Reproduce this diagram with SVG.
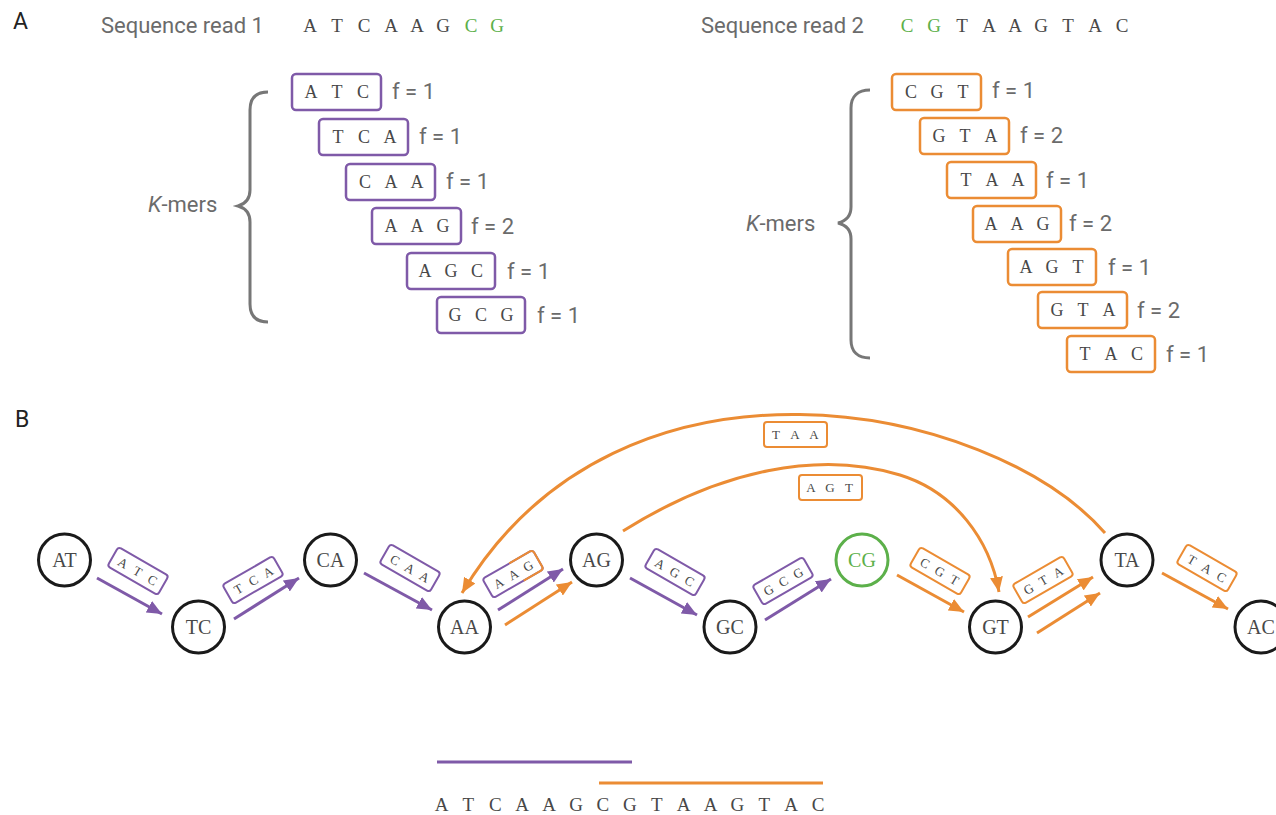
<svg xmlns="http://www.w3.org/2000/svg" width="1276" height="815" viewBox="0 0 1276 815">
<defs>
<style>
.panel{font-family:Roboto,"Liberation Sans",sans-serif;font-size:23px;fill:#222}
.lbl{font-family:Roboto,"Liberation Sans",sans-serif;font-size:22px;fill:#6b6b6b}
.mono{font-family:"Liberation Serif","DejaVu Serif",serif;fill:#484848}
.seq{font-size:19px;text-anchor:middle}
.km{font-size:18px;text-anchor:middle}
.sm{font-size:13px;text-anchor:middle}
.nd{font-size:20px;text-anchor:middle}
.g{fill:#5cb04a}
.bp{fill:#fff;stroke:#7f5aa8;stroke-width:2.5}
.bo{fill:#fff;stroke:#eb8c34;stroke-width:2.5}
.ep{fill:#fff;stroke:#7f5aa8;stroke-width:2}
.eo{fill:#fff;stroke:#eb8c34;stroke-width:2}
.brace{fill:none;stroke:#777;stroke-width:3}
.node{fill:#fff;stroke:#1a1a1a;stroke-width:3}
.ap{fill:none;stroke:#7f5aa8;stroke-width:3;marker-end:url(#mp)}
.ao{fill:none;stroke:#eb8c34;stroke-width:3;marker-end:url(#mo)}
</style>
<marker id="mp" markerUnits="userSpaceOnUse" markerWidth="15" markerHeight="13" viewBox="0 0 15 13" refX="15" refY="6.5" orient="auto"><path d="M0,0 L15,6.5 L0,13 z" fill="#7f5aa8"/></marker>
<marker id="mo" markerUnits="userSpaceOnUse" markerWidth="15" markerHeight="13" viewBox="0 0 15 13" refX="15" refY="6.5" orient="auto"><path d="M0,0 L15,6.5 L0,13 z" fill="#eb8c34"/></marker>
</defs>
<rect width="1276" height="815" fill="#fff"/>

<g id="panelA">
<text class="panel" x="13" y="29">A</text>
<text class="lbl" x="101" y="33">Sequence read 1</text>
<text class="mono seq" x="310 337 364 391 417 443" y="32">ATCAAG</text>
<text class="mono seq g" x="471 497" y="32">CG</text>
<text class="lbl" x="701" y="33">Sequence read 2</text>
<text class="mono seq g" x="907 934" y="32">CG</text>
<text class="mono seq" x="962 989 1015 1041 1068 1095 1122" y="32">TAAGTAC</text>

<path class="brace" d="M268,92 C256,92 250,98 250,110 L250,190 C250,199 245,204 238,206 C245,208 250,213 250,222 L250,304 C250,316 256,322 268,322"/>
<text class="lbl" x="148" y="212"><tspan font-style="italic">K</tspan>-mers</text>
<g id="kmer-l1"><rect class="bp" x="292" y="74" width="89" height="36" rx="4"/><text class="mono km" x="311 337 363" y="98">ATC</text><text class="lbl" x="392" y="99">f = 1</text></g>
<g id="kmer-l2"><rect class="bp" x="319" y="119" width="89" height="36" rx="4"/><text class="mono km" x="338 364 390" y="143">TCA</text><text class="lbl" x="419" y="144">f = 1</text></g>
<g id="kmer-l3"><rect class="bp" x="346" y="164" width="89" height="36" rx="4"/><text class="mono km" x="365 391 417" y="188">CAA</text><text class="lbl" x="446" y="189">f = 1</text></g>
<g id="kmer-l4"><rect class="bp" x="372" y="208" width="89" height="36" rx="4"/><text class="mono km" x="391 417 443" y="232">AAG</text><text class="lbl" x="471" y="234">f = 2</text></g>
<g id="kmer-l5"><rect class="bp" x="407" y="253" width="88" height="36" rx="4"/><text class="mono km" x="425 451 477" y="277">AGC</text><text class="lbl" x="507" y="279">f = 1</text></g>
<g id="kmer-l6"><rect class="bp" x="437" y="297" width="88" height="36" rx="4"/><text class="mono km" x="455 481 507" y="321">GCG</text><text class="lbl" x="537" y="323">f = 1</text></g>

<path class="brace" d="M870,90 C858,90 851,96 851,108 L851,207 C851,216 846,221 838,223 C846,225 851,230 851,239 L851,340 C851,352 858,358 870,358"/>
<text class="lbl" x="746" y="231"><tspan font-style="italic">K</tspan>-mers</text>
<g id="kmer-r1"><rect class="bo" x="892" y="74" width="89" height="36" rx="4"/><text class="mono km" x="911 937 963" y="98">CGT</text><text class="lbl" x="992" y="98">f = 1</text></g>
<g id="kmer-r2"><rect class="bo" x="920" y="118" width="89" height="36" rx="4"/><text class="mono km" x="939 965 991" y="142">GTA</text><text class="lbl" x="1020" y="143">f = 2</text></g>
<g id="kmer-r3"><rect class="bo" x="947" y="162" width="89" height="36" rx="4"/><text class="mono km" x="966 992 1018" y="186">TAA</text><text class="lbl" x="1046" y="188">f = 1</text></g>
<g id="kmer-r4"><rect class="bo" x="973" y="206" width="88" height="36" rx="4"/><text class="mono km" x="991 1017 1043" y="230">AAG</text><text class="lbl" x="1069" y="231">f = 2</text></g>
<g id="kmer-r5"><rect class="bo" x="1008" y="249" width="88" height="36" rx="4"/><text class="mono km" x="1026 1052 1078" y="273">AGT</text><text class="lbl" x="1108" y="275">f = 1</text></g>
<g id="kmer-r6"><rect class="bo" x="1038" y="292" width="89" height="36" rx="4"/><text class="mono km" x="1057 1083 1109" y="316">GTA</text><text class="lbl" x="1137" y="318">f = 2</text></g>
<g id="kmer-r7"><rect class="bo" x="1067" y="336" width="88" height="36" rx="4"/><text class="mono km" x="1085 1111 1137" y="360">TAC</text><text class="lbl" x="1166" y="362">f = 1</text></g>
</g>

<text class="panel" x="15" y="427">B</text>

<g id="connectors">
<path class="ap" d="M97,578 L162,614"/>
<path class="ap" d="M234,619 L299,578"/>
<path class="ap" d="M364,573 L432,610"/>
<path class="ap" d="M498,610 L563,569"/>
<path class="ao" d="M505,625 L572,582"/>
<path class="ap" d="M630,578 L697,615"/>
<path class="ap" d="M765,620 L831,579"/>
<path class="ao" d="M897,575 L964,612"/>
<path class="ao" d="M1028,617 L1093,577"/>
<path class="ao" d="M1037,633 L1100,593"/>
<path class="ao" d="M1162,573 L1228,609"/>
<path class="ao" d="M1105,533 C990,402 620,328 462,593"/>
<path class="ao" d="M623,531 C720,470 820,450 900,475 C955,492 990,540 999,592"/>
</g>

<g id="edge-labels">
<g id="e-ATC" transform="translate(138,571) rotate(30)"><rect class="ep" x="-29" y="-11" width="58" height="22" rx="3"/><text class="mono sm" x="-17 0 17" y="5">ATC</text></g>
<g id="e-TCA" transform="translate(253,580) rotate(-30)"><rect class="ep" x="-29" y="-11" width="58" height="22" rx="3"/><text class="mono sm" x="-17 0 17" y="5">TCA</text></g>
<g id="e-CAA" transform="translate(410,568) rotate(30)"><rect class="ep" x="-29" y="-11" width="58" height="22" rx="3"/><text class="mono sm" x="-17 0 17" y="5">CAA</text></g>
<g id="e-AAG" transform="translate(513,574) rotate(-30)"><rect class="ep" x="-29" y="-11" width="58" height="22" rx="3"/><path d="M2,-11 L26,-11 Q29,-11 29,-8 L29,8 Q29,11 26,11 L6,11" fill="none" stroke="#eb8c34" stroke-width="2"/><text class="mono sm" x="-17 0 17" y="5">AAG</text></g>
<g id="e-AGC" transform="translate(675,572) rotate(30)"><rect class="ep" x="-29" y="-11" width="58" height="22" rx="3"/><text class="mono sm" x="-17 0 17" y="5">AGC</text></g>
<g id="e-GCG" transform="translate(783,581) rotate(-30)"><rect class="ep" x="-29" y="-11" width="58" height="22" rx="3"/><text class="mono sm" x="-17 0 17" y="5">GCG</text></g>
<g id="e-CGT" transform="translate(940,571) rotate(30)"><rect class="eo" x="-29" y="-11" width="58" height="22" rx="3"/><text class="mono sm" x="-17 0 17" y="5">CGT</text></g>
<g id="e-GTA" transform="translate(1043,580) rotate(-30)"><rect class="eo" x="-29" y="-11" width="58" height="22" rx="3"/><text class="mono sm" x="-17 0 17" y="5">GTA</text></g>
<g id="e-TAC" transform="translate(1207,568) rotate(30)"><rect class="eo" x="-29" y="-11" width="58" height="22" rx="3"/><text class="mono sm" x="-17 0 17" y="5">TAC</text></g>
<g id="e-TAA"><rect class="eo" x="764" y="422" width="63" height="25" rx="3"/><text class="mono sm" x="776 795 814" y="439">TAA</text></g>
<g id="e-AGT"><rect class="eo" x="799" y="475" width="63" height="25" rx="3"/><text class="mono sm" x="811 830 849" y="492">AGT</text></g>
</g>

<g id="node-AT"><circle class="node" cx="64.5" cy="560" r="26"/><text class="mono nd" x="64.5" y="567">AT</text></g>
<g id="node-TC"><circle class="node" cx="198.5" cy="627" r="26"/><text class="mono nd" x="198.5" y="634">TC</text></g>
<g id="node-CA"><circle class="node" cx="330.5" cy="560" r="26"/><text class="mono nd" x="330.5" y="567">CA</text></g>
<g id="node-AA"><circle class="node" cx="464.5" cy="627" r="26"/><text class="mono nd" x="464.5" y="634">AA</text></g>
<g id="node-AG"><circle class="node" cx="596.5" cy="560" r="26"/><text class="mono nd" x="596.5" y="567">AG</text></g>
<g id="node-GC"><circle class="node" cx="730" cy="627" r="26"/><text class="mono nd" x="730" y="634">GC</text></g>
<g id="node-CG"><circle class="node" style="stroke:#5cb04a" cx="862" cy="560" r="26"/><text class="mono nd g" x="862" y="567">CG</text></g>
<g id="node-GT"><circle class="node" cx="995.5" cy="627" r="26"/><text class="mono nd" x="995.5" y="634">GT</text></g>
<g id="node-TA"><circle class="node" cx="1127" cy="560" r="26"/><text class="mono nd" x="1127" y="567">TA</text></g>
<g id="node-AC"><circle class="node" cx="1261" cy="627" r="26"/><text class="mono nd" x="1261" y="634">AC</text></g>

<g id="assembly">
<line x1="437" y1="762" x2="632" y2="762" stroke="#7f5aa8" stroke-width="3"/>
<line x1="599" y1="783" x2="823" y2="783" stroke="#eb8c34" stroke-width="3"/>
<text class="mono seq" x="441.5 468.4 495.3 522.2 549.1 576 602.9 629.8 656.7 683.6 710.5 737.4 764.3 791.2 818" y="811">ATCAAGCGTAAGTAC</text>
</g>
</svg>
